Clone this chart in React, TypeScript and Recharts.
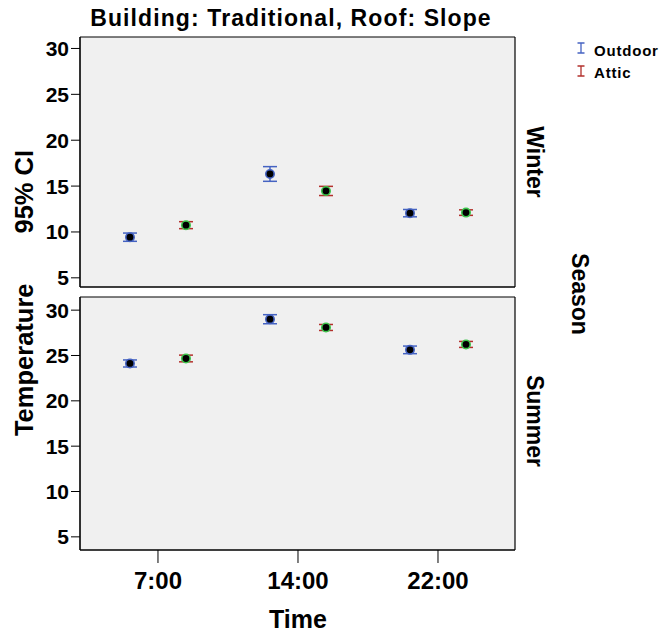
import { ScatterChart, Scatter, XAxis, YAxis, ErrorBar, CartesianGrid } from 'recharts';

// time of day categories
const timeLabels = ['7:00', '14:00', '22:00'];
const timeTicks = [1, 2, 3];
const yTicks = [5, 10, 15, 20, 25, 30];

// mean temperature and 95% CI half-width, per season and sensor
const winterOutdoor = [9.43, 16.32, 12.05];
const winterOutdoorCI = [0.45, 0.8, 0.4];
const winterAttic = [10.74, 14.47, 12.11];
const winterAtticCI = [0.38, 0.5, 0.3];

const summerOutdoor = [24.12, 29.0, 25.62];
const summerOutdoorCI = [0.39, 0.5, 0.42];
const summerAttic = [24.67, 28.09, 26.22];
const summerAtticCI = [0.37, 0.33, 0.33];

const W = 662;
const H = 635;
const FONT = '"Liberation Sans", Arial, sans-serif';
const BLUE = '#4563c2';
const RED = '#b3302c';
const GREEN = '#3cc44b';
const X_DOMAIN: [number, number] = [0.443, 3.55];
const DODGE = 0.2;

const rows = (means: number[], ci: number[], shift: number) =>
  means.map((y, i) => ({ x: timeTicks[i] + shift, y, err: ci[i] }));

const dot = (ring: string) => (props: any) => (
  <circle cx={props.cx} cy={props.cy} r={4.2} fill="#000" stroke={ring} strokeWidth={1.6} />
);

// frame lines around the plot area
const frameX = ({ offset }: any) => [offset.left, offset.left + offset.width];
const frameY = ({ offset }: any) => [offset.top, offset.top + offset.height];

interface PanelProps {
  outdoor: number[];
  outdoorCI: number[];
  attic: number[];
  atticCI: number[];
  yDomain: [number, number];
  top: number;
  bottom: number;
  showTime: boolean;
}

function Panel({ outdoor, outdoorCI, attic, atticCI, yDomain, top, bottom, showTime }: PanelProps) {
  const xHeight = showTime ? 60 : 1;
  return (
    <div style={{ position: 'absolute', left: 0, top: 0 }}>
      <ScatterChart
        width={W}
        height={H}
        margin={{ top, left: 20, right: 147, bottom: H - bottom - xHeight }}
      >
        <CartesianGrid
          fill="#f0f0f0"
          fillOpacity={1}
          stroke="#000"
          strokeWidth={1.2}
          verticalCoordinatesGenerator={frameX}
          horizontalCoordinatesGenerator={frameY}
        />
        <XAxis
          type="number"
          dataKey="x"
          domain={X_DOMAIN}
          allowDataOverflow
          ticks={showTime ? timeTicks : []}
          tick={showTime ? { fontSize: 24, fontWeight: 'bold', fill: '#000' } : false}
          tickFormatter={(v: number) => timeLabels[v - 1] ?? ''}
          tickLine={showTime ? { stroke: '#000' } : false}
          tickSize={13}
          tickMargin={9}
          height={xHeight}
          axisLine={{ stroke: '#000' }}
        />
        <YAxis
          type="number"
          dataKey="y"
          domain={yDomain}
          allowDataOverflow
          ticks={yTicks}
          width={60}
          tickSize={9}
          tickMargin={2}
          tick={{ fontSize: 21, fontWeight: 'bold', fill: '#000' }}
          tickLine={{ stroke: '#000' }}
          axisLine={{ stroke: '#000' }}
        />
        <Scatter
          name="Outdoor"
          data={rows(outdoor, outdoorCI, -DODGE)}
          shape={dot(BLUE)}
          isAnimationActive={false}
        >
          <ErrorBar dataKey="err" direction="y" width={7} stroke={BLUE} strokeWidth={1.5} isAnimationActive={false} />
        </Scatter>
        <Scatter
          name="Attic"
          data={rows(attic, atticCI, DODGE)}
          shape={dot(GREEN)}
          isAnimationActive={false}
        >
          <ErrorBar dataKey="err" direction="y" width={7} stroke={RED} strokeWidth={1.5} isAnimationActive={false} />
        </Scatter>
      </ScatterChart>
    </div>
  );
}

function LegendIcon({ x, y, color }: { x: number; y: number; color: string }) {
  return (
    <path
      d={`M${x - 3.5},${y} H${x + 3.5} M${x},${y} V${y + 10} M${x - 3.5},${y + 10} H${x + 3.5}`}
      stroke={color}
      strokeWidth={1.3}
      fill="none"
    />
  );
}

export default function App() {
  return (
    <div style={{ position: 'absolute', left: 0, top: 0, width: W, height: H, background: '#fff', fontFamily: FONT }}>
      <Panel
        outdoor={winterOutdoor}
        outdoorCI={winterOutdoorCI}
        attic={winterAttic}
        atticCI={winterAtticCI}
        yDomain={[4.0, 31.25]}
        top={37}
        bottom={287}
        showTime={false}
      />
      <Panel
        outdoor={summerOutdoor}
        outdoorCI={summerOutdoorCI}
        attic={summerAttic}
        atticCI={summerAtticCI}
        yDomain={[3.55, 31.45]}
        top={297}
        bottom={550}
        showTime
      />
      <svg
        width={W}
        height={H}
        style={{ position: 'absolute', left: 0, top: 0, pointerEvents: 'none' }}
        fontFamily={FONT}
        fontWeight="bold"
        fill="#000"
      >
        <text x={291} y={26} fontSize={23} letterSpacing={1.1} textAnchor="middle">
          Building: Traditional, Roof: Slope
        </text>
        <text x={298} y={628} fontSize={25} textAnchor="middle">
          Time
        </text>
        <text transform="translate(33,293) rotate(-90)" fontSize={25.5} textAnchor="middle">
          <tspan>Temperature</tspan>
          <tspan dx={50}>95% CI</tspan>
        </text>
        <text transform="translate(527,162) rotate(90)" fontSize={23} textAnchor="middle">
          Winter
        </text>
        <text transform="translate(527,421) rotate(90)" fontSize={23} textAnchor="middle">
          Summer
        </text>
        <text transform="translate(572,294) rotate(90)" fontSize={23} textAnchor="middle">
          Season
        </text>
        <LegendIcon x={581} y={43} color={BLUE} />
        <text x={594} y={56} fontSize={15} letterSpacing={0.8}>
          Outdoor
        </text>
        <LegendIcon x={581} y={66} color={RED} />
        <text x={594} y={78} fontSize={15} letterSpacing={0.8}>
          Attic
        </text>
      </svg>
    </div>
  );
}
